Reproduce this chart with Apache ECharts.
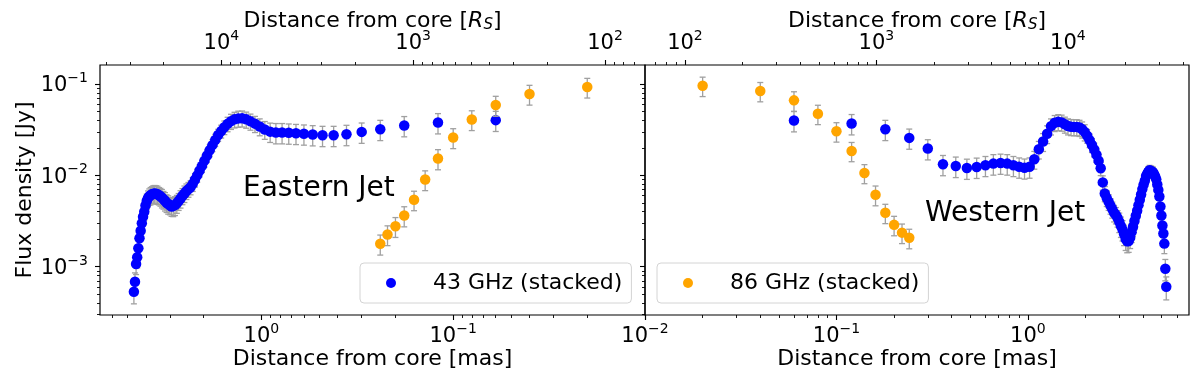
<!DOCTYPE html>
<html><head><meta charset="utf-8">
<script src="https://cdn.jsdelivr.net/npm/echarts@6/dist/echarts.min.js"></script>
<style>html,body{margin:0;padding:0;background:#fff}#c{width:1200px;height:384px}</style>
</head><body><div id="c"></div>
<script>
// ---------- data (distance in mas, flux density in Jy) ----------
const MAS_43 = [0.06,0.12,0.18,0.24,0.30,0.36,0.42,0.48,0.54,0.60,
  0.66,0.72,0.78,0.84,0.90,0.96,1.02,1.08,1.14,1.20,
  1.26,1.32,1.38,1.44,1.50,1.56,1.62,1.68,1.74,1.80,
  1.86,1.92,1.98,2.04,2.10,2.16,2.22,2.28,2.34,2.40,
  2.46,2.52,2.58,2.64,2.70,2.76,2.82,2.88,2.94,3.00,
  3.06,3.12,3.18,3.24,3.30,3.36,3.42,3.48,3.54,3.60,
  3.66,3.72,3.78,3.84,3.90,3.96,4.02,4.08,4.14,4.20,
  4.26,4.32,4.38,4.44,4.50,4.56,4.62,4.68,4.74,4.80,
  4.86,4.92,4.98,5.04,5.10,5.16,5.22,5.28];
const EAST_43 = [0.0402,0.0379,0.0352,0.0320,0.0299,0.0282,0.0275,0.0275,0.0280,0.0285,
  0.0289,0.0292,0.0295,0.0295,0.0301,0.0318,0.0343,0.0368,0.0390,0.0410,
  0.0422,0.0420,0.0410,0.0392,0.0366,0.0336,0.0305,0.0277,0.0244,0.0214,
  0.0188,0.0165,0.0145,0.0127,0.0113,0.0100,0.00895,0.00806,0.00742,0.00706,
  0.00674,0.00634,0.00597,0.00558,0.00523,0.00494,0.00473,0.00463,0.00456,0.00470,
  0.00486,0.00502,0.00527,0.00547,0.00570,0.00590,0.00605,0.00620,0.00628,0.00634,
  0.00628,0.00620,0.00605,0.00590,0.00565,0.00524,0.00468,0.00400,0.00353,0.00299,
  0.00248,0.00205,0.00159,0.00127,0.00107,0.000685,0.000532];
const EAST_43_ERR = [0.0100,0.0095,0.0088,0.0080,0.0075,0.0071,0.0069,0.0069,0.0070,0.0071,
  0.0072,0.0073,0.0074,0.0074,0.0072,0.0070,0.0072,0.0074,0.0078,0.0082,
  0.0084,0.0084,0.0080,0.0074,0.0066,0.0057,0.0049,0.0042,0.0037,0.0032,
  0.0028,0.0025,0.0022,0.0019,0.0017,0.0016,0.0015,0.0014,0.0013,0.0013,
  0.0013,0.0013,0.0012,0.0012,0.0011,0.0011,0.0011,0.0011,0.0010,0.0010,
  0.0011,0.0011,0.0012,0.0012,0.0013,0.0013,0.0013,0.0014,0.0014,0.0014,
  0.0014,0.0013,0.0013,0.0012,0.0011,0.0010,0.0009,0.0008,0.0007,0.0006,
  0.0005,0.00045,0.00035,0.0003,0.00025,0.00017,0.00014];
const WEST_43 = [0.0399,0.0370,0.0320,0.0257,0.01965,0.0132,0.01265,0.01203,0.01234,0.01288,
  0.01345,0.01366,0.01345,0.01288,0.0124,0.01209,0.0124,0.01498,0.0193,0.02345,
  0.02858,0.03455,0.03765,0.0385,0.0380,0.03615,0.0346,0.0340,0.0339,0.0339,
  0.03335,0.0320,0.0298,0.0271,0.0242,0.02147,0.0192,0.0168,0.01447,0.01194,
  0.00837,0.00634,0.00566,0.00514,0.00466,0.00425,0.00389,0.00369,0.00341,0.00311,
  0.00279,0.00255,0.00227,0.002005,0.0019,0.001915,0.00208,0.00239,0.00274,0.00316,
  0.00361,0.00409,0.00472,0.00541,0.00618,0.00707,0.00792,0.00874,0.00982,0.01044,
  0.01098,0.01135,0.0112,0.0110,0.01081,0.01026,0.00975,0.00904,0.00796,0.00693,
  0.00588,0.00456,0.00363,0.00282,0.002305,0.00179,0.00095,0.000603];
const WEST_43_ERR = [0.0100,0.0093,0.0080,0.0064,0.0049,0.0033,0.0032,0.0030,0.0031,0.0032,
  0.0034,0.0034,0.0034,0.0032,0.0031,0.0030,0.0031,0.0033,0.0042,0.0052,
  0.0063,0.0069,0.0075,0.0077,0.0076,0.0072,0.0069,0.0068,0.0068,0.0068,
  0.0067,0.0064,0.0060,0.0046,0.0041,0.0037,0.0033,0.0029,0.0025,0.0020,
  0.0015,0.0012,0.0011,0.0010,0.0009,0.00085,0.0008,0.00075,0.0007,0.00075,
  0.0007,0.00064,0.00057,0.0005,0.00048,0.00048,0.0005,0.00055,0.0006,0.00063,
  0.00065,0.0007,0.00075,0.0008,0.0009,0.0010,0.0011,0.0012,0.0013,0.0014,
  0.0015,0.0015,0.0015,0.0015,0.0015,0.0014,0.0014,0.0013,0.0012,0.0011,
  0.0011,0.0009,0.0008,0.0006,0.0005,0.0004,0.00025,0.00017];
const MAS_86 = [0.02,0.04,0.06,0.08,0.10,0.12,0.14,0.16,0.18,0.20,0.22,0.24];
const EAST_86 = [0.0927,0.0777,0.0588,0.0409,0.0260,0.0153,0.0090,0.0054,0.00363,0.00277,0.00225,0.00178];
const EAST_86_ERR = [0.0225,0.0190,0.0145,0.0100,0.0064,0.0038,0.0022,0.0013,0.0009,0.00068,0.00055,0.00044];
const WEST_86 = [0.0958,0.0838,0.0662,0.0472,0.0304,0.0185,0.0106,0.00614,0.00389,0.00287,0.00236,0.00207];
const WEST_86_ERR = [0.0230,0.0200,0.0160,0.0113,0.0073,0.0044,0.0025,0.0015,0.00093,0.00069,0.00057,0.0005];

// ---------- axes / ticks ----------
const MAS_RANGE = [0.01, 6.94];
const FLUX_RANGE = [2.96e-4, 0.1614];
const RS_PER_MAS = 6185;
const MAS_TICKS = [0.01, 0.1, 1];
const MAS_MINOR = [0.02,0.03,0.04,0.05,0.06,0.07,0.08,0.09,0.2,0.3,0.4,0.5,0.6,0.7,0.8,0.9,2,3,4,5,6];
const RS_TICKS = [100, 1000, 10000];
const RS_MINOR = [70,80,90,200,300,400,500,600,700,800,900,2000,3000,4000,5000,6000,7000,8000,9000,20000,30000,40000];
const FLUX_TICKS = [0.001, 0.01, 0.1];
const FLUX_MINOR = [0.0003,0.0004,0.0005,0.0006,0.0007,0.0008,0.0009,0.002,0.003,0.004,0.005,0.006,0.007,0.008,0.009,0.02,0.03,0.04,0.05,0.06,0.07,0.08,0.09];
const LABEL_43 = '43 GHz (stacked)';
const LABEL_86 = '86 GHz (stacked)';

const FONT = 'DejaVu Sans';
const BLUE = '#0000ff', ORANGE = '#ffa500', ERRC = '#a0a0a0';

function pow10(v) {
  const e = Math.round(Math.log10(v));
  return '{b|10}{s|' + (e < 0 ? '\u2212' + (-e) : String(e)) + '}';
}
const RICH = {
  b: {fontSize: 21, fontFamily: FONT, color: '#000', padding: [4, 0, 0, 0]},
  s: {fontSize: 14, fontFamily: FONT, color: '#000', verticalAlign: 'top'}
};
const RS_RANGE = [MAS_RANGE[0] * RS_PER_MAS, MAS_RANGE[1] * RS_PER_MAS];

function baseAxis(extra) {
  return Object.assign({
    type: 'log', logBase: 10,
    axisLine: {show: false}, splitLine: {show: false}, minorTick: {show: false},
    axisPointer: {show: false}, nameMoveOverlap: false
  }, extra);
}
function majorTick(vals) { return {show: true, length: 5, inside: false, lineStyle: {color: '#000', width: 1.1}, customValues: vals}; }
function minorTickStyle(vals) { return {show: true, length: 3, inside: false, lineStyle: {color: '#000', width: 0.9}, customValues: vals}; }
const NAME_STYLE = {fontSize: 22, fontFamily: FONT, color: '#000'};
const RS_NAME = '{t|Distance from core [}{i|R}{u|S}{t|]}';
const RS_NAME_STYLE = {fontFamily: FONT, color: '#000', rich: {
  t: {fontSize: 22, fontFamily: FONT, color: '#000'},
  i: {fontSize: 22, fontFamily: FONT, color: '#000', fontStyle: 'italic'},
  u: {fontSize: 15, fontFamily: FONT, color: '#000', fontStyle: 'italic', padding: [9, 0, 0, 0]}
}};

function xAxesFor(grid, inverse, labelVals) {
  return [
    baseAxis({gridIndex: grid, position: 'bottom', inverse, min: MAS_RANGE[0], max: MAS_RANGE[1],
      axisTick: majorTick(MAS_TICKS),
      axisLabel: {show: true, customValues: labelVals, formatter: pow10, rich: RICH, margin: 7, hideOverlap: false},
      name: 'Distance from core [mas]', nameLocation: 'middle', nameGap: 33, nameTextStyle: NAME_STYLE}),
    baseAxis({gridIndex: grid, position: 'bottom', inverse, min: MAS_RANGE[0], max: MAS_RANGE[1],
      axisTick: minorTickStyle(MAS_MINOR), axisLabel: {show: false}}),
    baseAxis({gridIndex: grid, position: 'top', inverse, min: RS_RANGE[0], max: RS_RANGE[1],
      axisTick: majorTick(RS_TICKS),
      axisLabel: {show: true, customValues: RS_TICKS, formatter: pow10, rich: RICH, margin: 11, hideOverlap: false},
      name: RS_NAME, nameLocation: 'middle', nameGap: 32, nameTextStyle: RS_NAME_STYLE}),
    baseAxis({gridIndex: grid, position: 'top', inverse, min: RS_RANGE[0], max: RS_RANGE[1],
      axisTick: minorTickStyle(RS_MINOR), axisLabel: {show: false}})
  ];
}
function yAxesFor(grid, labels) {
  const major = baseAxis({gridIndex: grid, position: 'left', min: FLUX_RANGE[0], max: FLUX_RANGE[1],
    axisTick: majorTick(FLUX_TICKS),
    axisLabel: labels ? {show: true, customValues: FLUX_TICKS, formatter: pow10, rich: RICH, margin: 12, hideOverlap: false} : {show: false}});
  if (labels) {
    major.name = 'Flux density [Jy]'; major.nameLocation = 'middle'; major.nameGap = 64;
    major.nameRotate = 90; major.nameTextStyle = NAME_STYLE;
  }
  return [major,
    baseAxis({gridIndex: grid, position: 'left', min: FLUX_RANGE[0], max: FLUX_RANGE[1],
      axisTick: minorTickStyle(FLUX_MINOR), axisLabel: {show: false}})];
}

function errSeries(xs, ys, es, xi, yi, z) {
  return {
    type: 'custom', xAxisIndex: xi, yAxisIndex: yi, z, silent: true,
    dimensions: ['x', 'y', 'e'], encode: {x: 0, y: 1},
    data: xs.map((x, i) => [x, ys[i], es[i]]),
    renderItem: (params, api) => {
      const x = api.value(0), y = api.value(1), e = api.value(2);
      const hi = api.coord([x, y + e]), lo = api.coord([x, y - e]);
      const st = {stroke: ERRC, lineWidth: 1.3};
      const cw = 3;
      return {type: 'group', children: [
        {type: 'line', shape: {x1: hi[0], y1: hi[1], x2: lo[0], y2: lo[1]}, style: st},
        {type: 'line', shape: {x1: hi[0] - cw, y1: hi[1], x2: hi[0] + cw, y2: hi[1]}, style: st},
        {type: 'line', shape: {x1: lo[0] - cw, y1: lo[1], x2: lo[0] + cw, y2: lo[1]}, style: st}
      ]};
    }
  };
}
function dotSeries(name, xs, ys, color, xi, yi, z) {
  return {
    type: 'scatter', name, xAxisIndex: xi, yAxisIndex: yi, z, silent: true,
    symbol: 'circle', symbolSize: 10.5, itemStyle: {color, opacity: 1},
    emphasis: {disabled: true},
    data: xs.map((x, i) => [x, ys[i]])
  };
}

const nE = EAST_43.length, nW = WEST_43.length;
const legendBase = {
  orient: 'horizontal', icon: 'circle', itemWidth: 10, itemHeight: 10, top: 263,
  padding: [8, 9, 8, 26], backgroundColor: '#ffffff', borderColor: '#d4d4d4', borderWidth: 1,
  borderRadius: 4, selectedMode: false,
  textStyle: {fontSize: 22, fontFamily: FONT, color: '#000', lineHeight: 24, padding: [0, 0, 0, 32]}
};

const option = {
  animation: false,
  backgroundColor: '#ffffff',
  grid: [
    {left: 100, top: 65, width: 545, height: 250, show: true, borderColor: '#000', borderWidth: 1.2, backgroundColor: 'transparent', outerBoundsMode: 'none', containLabel: false},
    {left: 645, top: 65, width: 544, height: 250, show: true, borderColor: '#000', borderWidth: 1.2, backgroundColor: 'transparent', outerBoundsMode: 'none', containLabel: false}
  ],
  xAxis: [...xAxesFor(0, true, [1, 0.1]), ...xAxesFor(1, false, [0.01, 0.1, 1])],
  yAxis: [...yAxesFor(0, true), ...yAxesFor(1, false)],
  legend: [
    Object.assign({}, legendBase, {left: 360, data: [LABEL_43]}),
    Object.assign({}, legendBase, {left: 657, data: [LABEL_86]})
  ],
  graphic: [
    {type: 'text', x: 243, y: 189, style: {text: 'Eastern Jet', font: '28px "DejaVu Sans"', fill: '#000', verticalAlign: 'middle'}},
    {type: 'text', x: 925, y: 214, style: {text: 'Western Jet', font: '28px "DejaVu Sans"', fill: '#000', verticalAlign: 'middle'}}
  ],
  series: [
    errSeries(MAS_43.slice(0, nE), EAST_43, EAST_43_ERR, 0, 0, 2),
    dotSeries(LABEL_43, MAS_43.slice(0, nE), EAST_43, BLUE, 0, 0, 3),
    errSeries(MAS_86, EAST_86, EAST_86_ERR, 0, 0, 4),
    dotSeries(LABEL_86, MAS_86, EAST_86, ORANGE, 0, 0, 5),
    errSeries(MAS_43.slice(0, nW), WEST_43, WEST_43_ERR, 4, 2, 2),
    dotSeries(LABEL_43, MAS_43.slice(0, nW), WEST_43, BLUE, 4, 2, 3),
    errSeries(MAS_86, WEST_86, WEST_86_ERR, 4, 2, 4),
    dotSeries(LABEL_86, MAS_86, WEST_86, ORANGE, 4, 2, 5)
  ]
};
const chart = echarts.init(document.getElementById('c'), null, {renderer: 'canvas'});
chart.setOption(option);
</script>
</body></html>
